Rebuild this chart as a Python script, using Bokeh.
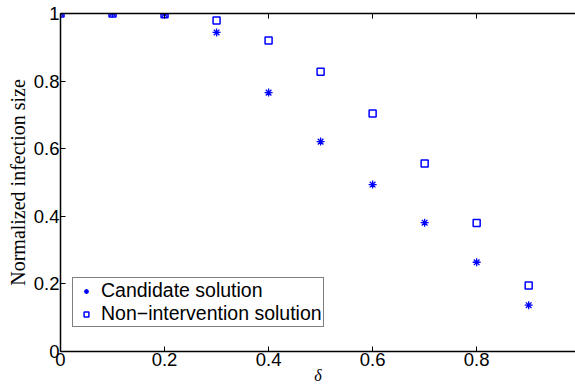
from bokeh.plotting import figure
from bokeh.models import Range1d, LinearAxis, FixedTicker, Legend, LegendItem
from bokeh.embed import file_html
from bokeh.resources import INLINE

delta = [0.0, 0.1, 0.2, 0.3, 0.4, 0.5, 0.6, 0.7, 0.8, 0.9]
candidate = [1.0, 1.0, 0.998, 0.944, 0.766, 0.621, 0.494, 0.381, 0.264, 0.137]
nonint = [1.0, 1.0, 0.998, 0.979, 0.920, 0.828, 0.704, 0.556, 0.380, 0.195]
xticks = [0, 0.2, 0.4, 0.6, 0.8, 1.0]
yticks = [0, 0.2, 0.4, 0.6, 0.8, 1.0]

p = figure(width=575, height=387, output_backend="svg", toolbar_location=None,
           x_range=Range1d(0, 0.99), y_range=Range1d(0, 1),
           min_border_left=60, min_border_top=13, min_border_bottom=36, min_border_right=0,
           x_axis_label="δ", y_axis_label="Normalized infection size")
p.grid.visible = False
p.outline_line_color = None
p.background_fill_color = "white"
p.border_fill_color = "white"

for ax in (p.xaxis[0], p.yaxis[0]):
    ax.major_tick_in = 5
    ax.major_tick_out = 0
    ax.minor_tick_line_color = None
    ax.axis_line_width = 1.5
    ax.axis_line_color = "black"
    ax.major_tick_line_color = "black"
    ax.major_label_text_font = "Liberation Sans"
    ax.major_label_text_font_size = "18.5px"
    ax.major_label_text_color = "black"
    ax.axis_label_text_font = "Liberation Serif"
    ax.axis_label_text_font_style = "normal"
    ax.axis_label_text_font_size = "20px"
    ax.axis_label_text_color = "black"

p.xaxis[0].ticker = FixedTicker(ticks=xticks)
p.yaxis[0].ticker = FixedTicker(ticks=yticks)
p.xaxis[0].major_label_standoff = 1
p.xaxis[0].axis_label_standoff = -2
p.xaxis[0].axis_label_text_font_style = "italic"
p.xaxis[0].axis_label_text_font_size = "16px"
p.yaxis[0].major_label_standoff = 1
p.yaxis[0].axis_label_standoff = 2

top = LinearAxis(ticker=FixedTicker(ticks=xticks),
                 major_label_overrides={t: "" for t in xticks},
                 major_tick_in=5, major_tick_out=0, minor_tick_line_color=None,
                 axis_line_width=1.5, axis_line_color="black", major_label_standoff=0)
p.add_layout(top, "above")

r1 = p.scatter(delta, candidate, marker="asterisk", size=8, line_color="blue", line_width=1.3)
r2 = p.scatter(delta, nonint, marker="square", size=7, line_color="blue",
               fill_color=None, line_width=1.5)

legend = Legend(items=[LegendItem(label="Candidate solution", renderers=[r1]),
                       LegendItem(label="Non\u2212intervention solution", renderers=[r2])],
                location=(12, 24))
legend.border_line_color = "black"
legend.border_line_width = 1
legend.background_fill_alpha = 1
legend.label_text_font = "Liberation Sans"
legend.label_text_font_size = "19.5px"
legend.label_text_color = "black"
legend.glyph_width = 24
legend.glyph_height = 12
legend.label_standoff = 3
legend.padding = 1
legend.spacing = 0
legend.margin = 0
legend.label_height = 19
p.add_layout(legend, "center")

open("out.html", "w").write(file_html(p, INLINE))
